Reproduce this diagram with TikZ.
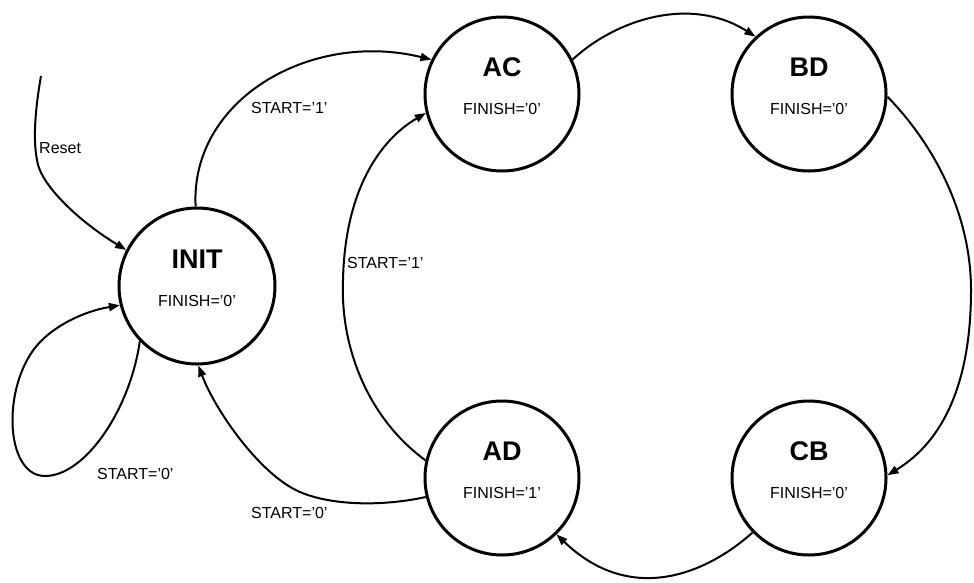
\documentclass[tikz,border=0pt]{standalone}
\usepackage{fontspec}
\setmainfont{Liberation Sans}
\usetikzlibrary{arrows.meta}
\begin{document}
\begin{tikzpicture}[x=1pt,y=-1pt,
  state/.style={circle,draw=black,line width=3pt,inner sep=0pt,minimum size=154pt},
  statename/.style={anchor=base,font=\fontsize{27}{30}\selectfont\bfseries},
  statefin/.style={anchor=base,font=\fontsize{16}{19}\selectfont},
  lbl/.style={anchor=base west,font=\fontsize{16}{19}\selectfont,inner sep=0pt},
  edge/.style={line width=2pt,-{Triangle[length=11pt,width=8pt]}}]
\useasboundingbox (0,0) rectangle (974,582);
% states
\node[state,minimum size=156pt] (init) at (197,286) {};
\node[state] (ac) at (502,94) {};
\node[state] (bd) at (809,94) {};
\node[state] (ad) at (502,478) {};
\node[state] (cb) at (809,478) {};
% state texts
\node[statename] (initN) at (197,268) {INIT};
\node[statefin]  (initF) at (197,306) {FINISH=’0’};
\node[statename] (acN) at (502,76) {AC};
\node[statefin]  (acF) at (502,114) {FINISH=’0’};
\node[statename] (bdN) at (809,76) {BD};
\node[statefin]  (bdF) at (809,114) {FINISH=’0’};
\node[statename] (adN) at (502,460) {AD};
\node[statefin]  (adF) at (502,498) {FINISH=’1’};
\node[statename] (cbN) at (809,460) {CB};
\node[statefin]  (cbF) at (809,498) {FINISH=’0’};
% reset
\coordinate (rst) at (41,76);
\draw[edge] (rst) .. controls (35,110) and (33,140) .. (37,160)
  .. controls (40,185) and (80,222) .. (init.153);
\node[lbl] (rstL) at (39,153) {Reset};
% INIT -> AC
\draw[edge] (init.91) .. controls (190,100) and (310,30) .. (ac.154);
\node[lbl] (s1a) at (251,113) {START=’1’};
% AC -> BD
\draw[edge] (ac.26) .. controls (615,20) and (690,-5) .. (bd.133);
% BD -> CB
\draw[edge] (bd.-2) .. controls (930,140) and (971,210) .. (971,290)
  .. controls (971,380) and (945,440) .. (cb.2);
% CB -> AD
\draw[edge] (cb.224) .. controls (705,575) and (630,605) .. (ad.-46);
% AD -> AC
\draw[edge] (ad.167) .. controls (370,420) and (340,350) .. (343,280)
  .. controls (345,190) and (380,140) .. (ac.194);
\node[lbl] (s1b) at (347,268) {START=’1’};
% AD -> INIT
\draw[edge] (ad.194) .. controls (380,507) and (330,505) .. (300,492)
  .. controls (260,475) and (215,410) .. (init.271);
\node[lbl] (s0b) at (251,518) {START=’0’};
% INIT self loop
\draw[edge] (init.224) .. controls (130,410) and (85,476) .. (45,476)
  .. controls (8,476) and (2,400) .. (30,355)
  .. controls (45,330) and (80,312) .. (init.194);
\node[lbl] (s0a) at (97,479) {START=’0’};
\end{tikzpicture}
\end{document}
